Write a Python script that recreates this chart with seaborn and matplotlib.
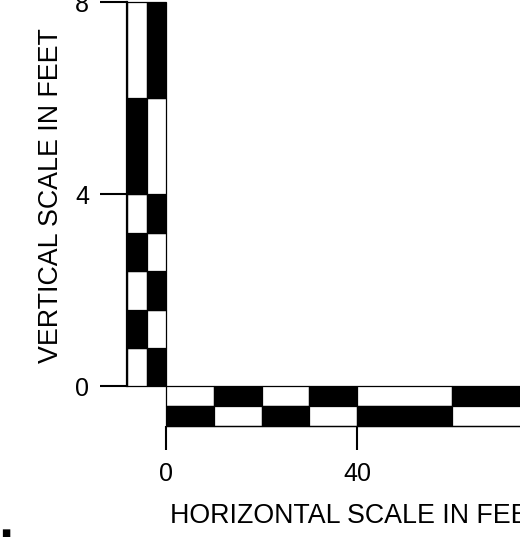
import matplotlib
matplotlib.use("Agg")
import matplotlib.pyplot as plt
import seaborn as sns

# vertical scale (feet): segment edges and fill of the two columns, bottom to top
v_edges = [0, 0.8, 1.6, 2.4, 3.2, 4, 6, 8]
v_left_col = ["white", "black", "white", "black", "white", "black", "white"]
v_right_col = ["black", "white", "black", "white", "black", "white", "black"]
v_ticks = [0, 4, 8]

# horizontal scale (feet): segment edges and fill of the two rows, left to right
h_edges = [0, 10, 20, 30, 40, 60, 80]
h_top_row = ["white", "black", "white", "black", "white", "black"]
h_bottom_row = ["black", "white", "black", "white", "black", "white"]
h_ticks = [0, 40]

v_label = "VERTICAL SCALE IN FEET"
h_label = "HORIZONTAL SCALE IN FEET"

sns.set_theme(style="ticks")
plt.rcParams["font.family"] = ["Liberation Sans", "DejaVu Sans"]

fig = plt.figure(figsize=(5.2, 5.53), dpi=100)
ax = fig.add_axes([0, 0, 1, 1])
ax.set_facecolor("white")

col_w = 4.15    # width of one vertical column, in horizontal feet
row_h = 0.41    # height of one horizontal row, in vertical feet

v_bottoms = v_edges[:-1]
v_heights = [b - a for a, b in zip(v_edges[:-1], v_edges[1:])]
for x0, colors in [(-2 * col_w, v_left_col), (-col_w, v_right_col)]:
    ax.bar([x0] * len(v_heights), v_heights, bottom=v_bottoms, width=col_w,
           align="edge", color=colors, edgecolor="black", linewidth=0.9)

h_lefts = h_edges[:-1]
h_widths = [b - a for a, b in zip(h_edges[:-1], h_edges[1:])]
for y0, colors in [(-row_h, h_top_row), (-2 * row_h, h_bottom_row)]:
    ax.barh([y0] * len(h_widths), h_widths, left=h_lefts, height=row_h,
            align="edge", color=colors, edgecolor="black", linewidth=0.9)

ax.set_xlim(-34.96, 74.23)
ax.set_ylim(-3.47, 8.05)

# axes drawn as scale rulers
sns.despine(ax=ax, top=True, right=True)
ax.spines["left"].set_position(("data", -2 * col_w))
ax.spines["left"].set_bounds(v_edges[0], v_edges[-1])
ax.spines["left"].set_linewidth(1.6)
ax.spines["left"].set_color("black")
ax.spines["bottom"].set_position(("data", -2 * row_h))
ax.spines["bottom"].set_bounds(h_edges[0], h_edges[-1])
ax.spines["bottom"].set_linewidth(0.9)
ax.spines["bottom"].set_color("black")

ax.set_yticks(v_ticks)
ax.set_yticklabels([str(t) for t in v_ticks])
ax.set_xticks(h_ticks)
ax.set_xticklabels([str(t) for t in h_ticks])
ax.tick_params(axis="y", direction="out", length=19.4, width=1.5, pad=8,
               labelsize=18, colors="black")
ax.tick_params(axis="x", direction="out", length=17.3, width=1.5, pad=9,
               labelsize=18, colors="black")
ax.grid(False)

fig.text(0.099, 0.6456, v_label, rotation=90, ha="center", va="center",
         fontsize=19.3, color="black")
fig.text(0.327, 0.067, h_label, ha="left", va="center",
         fontsize=19.3, color="black")
fig.text(0.002, 0.037, "■", ha="left", va="center", fontsize=7,
         family="DejaVu Sans", color="black")

fig.savefig("out.png", dpi=100)
